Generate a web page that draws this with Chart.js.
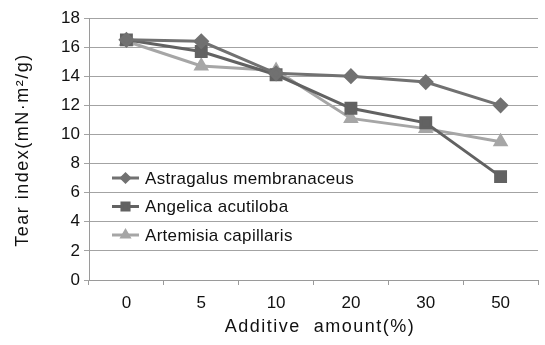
<!DOCTYPE html>
<html>
<head>
<meta charset="utf-8">
<script src="https://cdn.jsdelivr.net/npm/chart.js@4"></script>
<style>
  html, body { margin: 0; padding: 0; background: #fff; overflow: hidden; }
  #wrap { position: absolute; left: 0; top: 0; width: 548px; height: 345px; }
</style>
</head>
<body>
<div id="wrap"><canvas id="chart" width="548" height="345"></canvas></div>
<script>
// additive amount categories (%)
const categories = ["0", "5", "10", "20", "30", "50"];

// tear index values
const astragalus = [16.5, 16.4, 14.2, 14.0, 13.6, 12.0];
const angelica = [16.5, 15.7, 14.1, 11.8, 10.8, 7.1];
const artemisia = [16.4, 14.7, 14.4, 11.1, 10.4, 9.5];

const seriesNames = ["Astragalus membranaceus", "Angelica acutiloba", "Artemisia capillaris"];
const yTicks = [0, 2, 4, 6, 8, 10, 12, 14, 16, 18];

const FONT = "'Liberation Sans', Arial, sans-serif";

// legend and axis titles drawn by hand so they sit where the reference has them
const extrasPlugin = {
  id: "extras",
  afterDraw(chart) {
    const ctx = chart.ctx;
    const area = chart.chartArea;
    ctx.save();

    // legend inside the plot area
    chart.data.datasets.forEach((ds, i) => {
      const y = area.top + 160 + i * 28.5;
      const x0 = area.left + 23;
      ctx.strokeStyle = ds.borderColor;
      ctx.lineWidth = 3;
      ctx.beginPath();
      ctx.moveTo(x0, y);
      ctx.lineTo(x0 + 27, y);
      ctx.stroke();
      ctx.fillStyle = ds.borderColor;
      Chart.helpers.drawPoint(ctx, {
        pointStyle: ds.pointStyle,
        radius: ds.pointRadius - 2,
        borderWidth: 1,
        rotation: 0
      }, x0 + 13.5, y);
      ctx.fillStyle = "#111";
      ctx.font = "17px " + FONT;
      ctx.letterSpacing = "0.3px";
      ctx.textAlign = "left";
      ctx.textBaseline = "middle";
      ctx.fillText(ds.label, x0 + 33, y + 1);
    });

    // axis titles
    ctx.fillStyle = "#111";
    ctx.font = "18px " + FONT;
    ctx.letterSpacing = "1.5px";
    ctx.textAlign = "center";
    ctx.textBaseline = "middle";
    ctx.fillText("Additive  amount(%)", 320, 327);

    ctx.translate(23, 150);
    ctx.rotate(-Math.PI / 2);
    ctx.fillText("Tear index(mN·m²/g)", 0, 0);
    ctx.restore();
  }
};

const ctx = document.getElementById("chart").getContext("2d");
const chart = new Chart(ctx, {
  type: "line",
  data: {
    labels: categories,
    datasets: [
      {
        label: seriesNames[0],
        data: astragalus,
        borderColor: "#717171",
        backgroundColor: "#717171",
        pointStyle: "rectRot",
        pointRadius: 6,
        borderWidth: 3
      },
      {
        label: seriesNames[1],
        data: angelica,
        borderColor: "#626262",
        backgroundColor: "#626262",
        pointStyle: "rect",
        pointRadius: 7,
        borderWidth: 3
      },
      {
        label: seriesNames[2],
        data: artemisia,
        borderColor: "#a6a6a6",
        backgroundColor: "#a6a6a6",
        pointStyle: "triangle",
        pointRadius: 6,
        borderWidth: 3
      }
    ]
  },
  options: {
    responsive: false,
    animation: false,
    layout: { padding: { top: 18, right: 0, left: 0, bottom: 0 } },
    plugins: {
      legend: { display: false },
      tooltip: { enabled: false }
    },
    elements: { line: { tension: 0 } },
    scales: {
      x: {
        offset: true,
        grid: {
          offset: true,
          drawOnChartArea: false,
          drawTicks: true,
          tickLength: 5,
          color: "#9a9a9a"
        },
        border: { color: "#9a9a9a", width: 1 },
        ticks: {
          color: "#111",
          font: { family: FONT, size: 17 },
          padding: 8,
          maxRotation: 0
        },
        afterFit(scale) { scale.height = 65; }
      },
      y: {
        min: 0,
        max: 18,
        afterBuildTicks(scale) {
          scale.ticks = yTicks.map((v) => ({ value: v }));
        },
        grid: {
          color: "#a3a3a3",
          tickLength: 5,
          lineWidth: 1
        },
        border: { color: "#9a9a9a", width: 1 },
        ticks: {
          color: "#111",
          font: { family: FONT, size: 17 },
          padding: 4
        },
        afterFit(scale) { scale.width = 89; }
      }
    }
  },
  plugins: [extrasPlugin]
});
</script>
</body>
</html>
